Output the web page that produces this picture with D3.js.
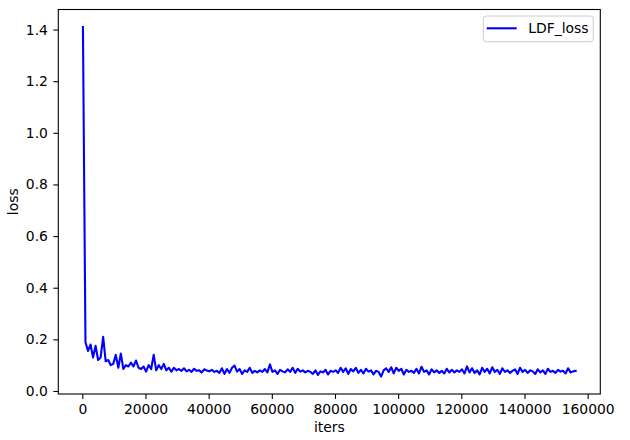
<!DOCTYPE html>
<html>
<head>
	<meta charset="utf-8">
	<script src="https://cdn.jsdelivr.net/npm/d3@7/dist/d3.min.js"></script>
	<style>
		body { margin: 0; background: #fff; }
		text { font-family: "DejaVu Sans", sans-serif; }
	</style>
</head>
<body>
	<script>
		// training log: one loss reading every 800 iters, starting at iter 200
		var iterStart = 200;
		var iterStep = 800;
		var lossValues = [
			1.41, 0.19, 0.155, 0.18, 0.13, 0.175, 0.12, 0.13, 0.21, 0.115,
			0.12, 0.10, 0.105, 0.14, 0.09, 0.145, 0.085, 0.10, 0.095, 0.11,
			0.095, 0.118, 0.09, 0.085, 0.095, 0.075, 0.10, 0.085, 0.14, 0.08,
			0.10, 0.085, 0.105, 0.08, 0.09, 0.075, 0.09, 0.08, 0.085, 0.078,
			0.088, 0.076, 0.082, 0.074, 0.086, 0.078, 0.08, 0.072, 0.084, 0.079,
			0.076, 0.082, 0.074, 0.078, 0.07, 0.088, 0.066, 0.085, 0.07, 0.09,
			0.098, 0.075, 0.085, 0.066, 0.08, 0.074, 0.09, 0.07, 0.078, 0.072,
			0.08, 0.074, 0.085, 0.072, 0.103, 0.074, 0.08, 0.066, 0.082, 0.076,
			0.072, 0.084, 0.074, 0.09, 0.07, 0.086, 0.075, 0.08, 0.072, 0.078,
			0.074, 0.066, 0.08, 0.062, 0.076, 0.072, 0.082, 0.064, 0.078, 0.074,
			0.08, 0.07, 0.09, 0.074, 0.088, 0.066, 0.085, 0.076, 0.09, 0.07,
			0.082, 0.068, 0.086, 0.075, 0.08, 0.064, 0.078, 0.074, 0.056, 0.08,
			0.088, 0.074, 0.092, 0.068, 0.09, 0.078, 0.086, 0.064, 0.082, 0.074,
			0.078, 0.07, 0.086, 0.068, 0.094, 0.074, 0.08, 0.064, 0.084, 0.072,
			0.08, 0.07, 0.078, 0.068, 0.086, 0.072, 0.082, 0.072, 0.08, 0.074,
			0.084, 0.068, 0.095, 0.072, 0.088, 0.07, 0.08, 0.064, 0.09, 0.074,
			0.086, 0.068, 0.092, 0.074, 0.082, 0.066, 0.088, 0.074, 0.08, 0.07,
			0.078, 0.084, 0.066, 0.09, 0.074, 0.082, 0.07, 0.08, 0.076, 0.066,
			0.084, 0.072, 0.08, 0.066, 0.086, 0.074, 0.078, 0.07, 0.082, 0.075,
			0.078, 0.068, 0.088, 0.072, 0.076, 0.078
		];
		var xTicks = [0, 20000, 40000, 60000, 80000, 100000, 120000, 140000, 160000];
		var yTicks = [0.0, 0.2, 0.4, 0.6, 0.8, 1.0, 1.2, 1.4];
		var seriesName = "LDF_loss";
		var xLabel = "iters";
		var yLabel = "loss";

		var width = 630, height = 440;
		var plotLeft = 58.3, plotRight = 600.3, plotTop = 9.5, plotBottom = 394;
		var fontSize = 13.9;
		var tickLen = 4.9;

		var data = lossValues.map(function(v, i) {
			return { iter: iterStart + i * iterStep, loss: v };
		});

		// matplotlib style 5% margins around the data
		var xExt = d3.extent(data, function(d) { return d.iter; });
		var yExt = d3.extent(data, function(d) { return d.loss; });
		var xPad = (xExt[1] - xExt[0]) * 0.05;
		var yPad = (yExt[1] - yExt[0]) * 0.05;

		var x = d3.scaleLinear()
			.domain([xExt[0] - xPad, xExt[1] + xPad])
			.range([plotLeft, plotRight]);
		var y = d3.scaleLinear()
			.domain([yExt[0] - yPad, yExt[1] + yPad])
			.range([plotBottom, plotTop]);

		var svg = d3.select('body').append('svg')
			.attr('width', width)
			.attr('height', height);

		svg.append('rect')
			.attr('width', width)
			.attr('height', height)
			.attr('fill', '#fff');

		var xAxis = svg.append('g')
			.attr('transform', 'translate(0,' + plotBottom + ')')
			.call(d3.axisBottom(x)
				.tickValues(xTicks)
				.tickFormat(d3.format('d'))
				.tickSizeOuter(0)
				.tickSize(tickLen)
				.tickPadding(4.9));

		var yAxis = svg.append('g')
			.attr('transform', 'translate(' + plotLeft + ',0)')
			.call(d3.axisLeft(y)
				.tickValues(yTicks)
				.tickFormat(d3.format('.1f'))
				.tickSizeOuter(0)
				.tickSize(tickLen)
				.tickPadding(5.5));

		[xAxis, yAxis].forEach(function(ax) {
			ax.select('.domain').remove();
			ax.selectAll('line').attr('stroke', '#000').attr('stroke-width', 1.1);
			ax.selectAll('text')
				.attr('fill', '#000')
				.style('font-size', fontSize + 'px')
				.style('font-family', '"DejaVu Sans", sans-serif');
		});

		//the loss curve
		var line = d3.line()
			.x(function(d) { return x(d.iter); })
			.y(function(d) { return y(d.loss); });

		svg.append('path')
			.datum(data)
			.attr('d', line)
			.attr('fill', 'none')
			.attr('stroke', '#0000ff')
			.attr('stroke-width', 2.1)
			.attr('stroke-linejoin', 'round')
			.attr('stroke-linecap', 'square');

		// frame
		svg.append('rect')
			.attr('x', plotLeft)
			.attr('y', plotTop)
			.attr('width', plotRight - plotLeft)
			.attr('height', plotBottom - plotTop)
			.attr('fill', 'none')
			.attr('stroke', '#000')
			.attr('stroke-width', 1.1);

		// axis labels
		svg.append('text')
			.attr('x', (plotLeft + plotRight) / 2)
			.attr('y', 432)
			.attr('text-anchor', 'middle')
			.style('font-size', fontSize + 'px')
			.text(xLabel);

		svg.append('text')
			.attr('transform', 'translate(17.5,' + ((plotTop + plotBottom) / 2) + ') rotate(-90)')
			.attr('text-anchor', 'middle')
			.style('font-size', fontSize + 'px')
			.text(yLabel);

		// legend
		var legend = svg.append('g');
		legend.append('rect')
			.attr('x', 483.3)
			.attr('y', 16)
			.attr('width', 110)
			.attr('height', 25.7)
			.attr('rx', 3)
			.attr('fill', '#fff')
			.attr('fill-opacity', 0.8)
			.attr('stroke', '#cccccc')
			.attr('stroke-width', 1);
		legend.append('line')
			.attr('x1', 486.7)
			.attr('x2', 516.7)
			.attr('y1', 28.3)
			.attr('y2', 28.3)
			.attr('stroke', '#0000ff')
			.attr('stroke-width', 2.1);
		legend.append('text')
			.attr('x', 528.3)
			.attr('y', 33.3)
			.style('font-size', fontSize + 'px')
			.text(seriesName);
	</script>
</body>
</html>
